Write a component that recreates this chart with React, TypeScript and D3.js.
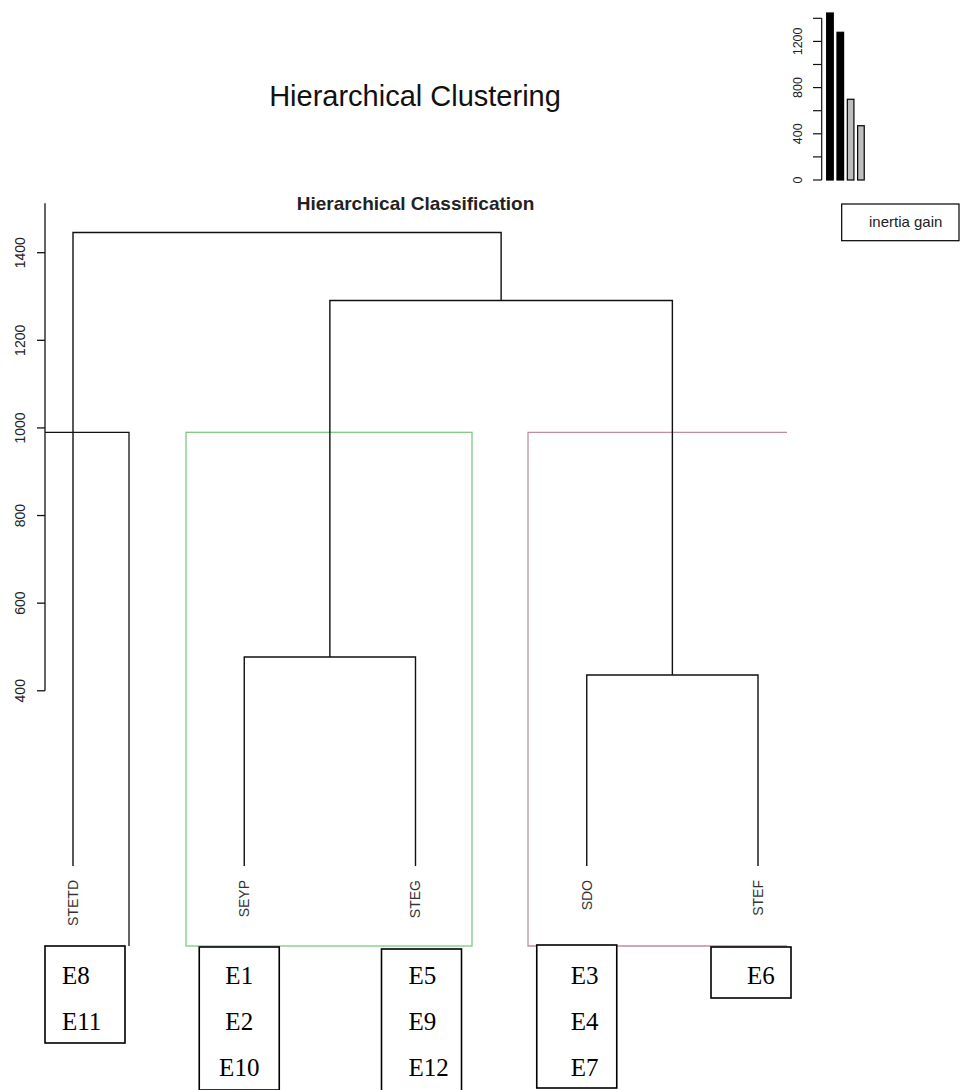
import * as d3 from "d3";

// dendrogram leaves (left to right) and merges, R-style
const leaves = ["STETD", "SEYP", "STEG", "SDO", "STEF"];
const mergeIds = ["m1", "m2", "m3", "m4"];
const mergeLeft = ["SEYP", "SDO", "m1", "STETD"];
const mergeRight = ["STEG", "STEF", "m2", "m3"];
const mergeHeights = [477, 436, 1291, 1446];
const cutHeight = 990;

const yTicks = [400, 600, 800, 1000, 1200, 1400];
const axisTop = 1513;

// inset: inertia gain barplot
const inertiaGain = [1446, 1279, 699, 470];
const gainFill = ["#000000", "#000000", "#bebebe", "#bebebe"];
const gainTicks = [0, 200, 400, 600, 800, 1000, 1200, 1400];
const gainLabels = [0, 400, 800, 1200];

// individuals in each cluster box (one box per leaf)
const boxMembers = [
    ["E8", "E11"],
    ["E1", "E2", "E10"],
    ["E5", "E9", "E12"],
    ["E3", "E4", "E7"],
    ["E6"],
];

// box placement relative to its leaf
const boxLayout = [
    { dx: -28, top: 946, textDx: 17, anchor: "start" },
    { dx: -45, top: 947, textDx: 40, anchor: "middle" },
    { dx: -34, top: 949, textDx: 27, anchor: "start" },
    { dx: -50, top: 945, textDx: 34, anchor: "start" },
    { dx: -47, top: 947, textDx: 36, anchor: "start" },
];

const W = 966;
const H = 1090;
const font = "'Liberation Sans', Arial, sans-serif";

export default function App() {
    const x = d3.scalePoint<string>().domain(leaves).range([73, 758]);
    const y = d3.scaleLinear().domain([0, 1400]).range([866, 252.7]);

    // positions of leaves and merges
    const pos: Record<string, { x: number; h: number }> = {};
    leaves.forEach((l) => (pos[l] = { x: x(l) as number, h: 0 }));
    const links: string[] = [];
    mergeIds.forEach((id, i) => {
        const a = pos[mergeLeft[i]];
        const b = pos[mergeRight[i]];
        const h = mergeHeights[i];
        pos[id] = { x: (a.x + b.x) / 2, h };
        const p = d3.path();
        p.moveTo(a.x, y(a.h));
        p.lineTo(a.x, y(h));
        p.lineTo(b.x, y(h));
        p.lineTo(b.x, y(b.h));
        links.push(p.toString());
    });

    const cutY = y(cutHeight);
    const rectBottom = 946;

    // inset scales
    const gy = d3.scaleLinear().domain([0, 1400]).range([180, 18.3]);
    const gx = d3
        .scaleBand<number>()
        .domain(d3.range(inertiaGain.length))
        .range([824.8, 866.1])
        .paddingInner(0.36)
        .paddingOuter(0.18);

    const rowH = 46;
    const firstBaseline = 984;

    return (
        <svg width={W} height={H} style={{ position: "absolute", left: 0, top: 0, background: "#fff" }}>
            <text x={415} y={106} textAnchor="middle" fontFamily={font} fontSize={29} fill="#111">
                Hierarchical Clustering
            </text>
            <text x={415.5} y={210} textAnchor="middle" fontFamily={font} fontSize={19} fontWeight="bold" fill="#222">
                Hierarchical Classification
            </text>

            {/* y axis */}
            <g>
                <line x1={45} x2={45} y1={y(axisTop)} y2={y(yTicks[0])} stroke="#111" strokeWidth={1.3} />
                {yTicks.map((t) => (
                    <g key={t} transform={`translate(0,${y(t)})`}>
                        <line x1={37} x2={45} stroke="#111" strokeWidth={1.3} />
                        <text
                            transform="translate(20,0) rotate(-90)"
                            textAnchor="middle"
                            dy="0.35em"
                            fontFamily={font}
                            fontSize={14}
                            fill="#222"
                        >
                            {t}
                        </text>
                    </g>
                ))}
            </g>

            {/* cluster rectangles */}
            <path
                d={`M45,${cutY}H129V${rectBottom}`}
                fill="none"
                stroke="#111"
                strokeWidth={1.3}
            />
            <rect
                x={186}
                y={cutY}
                width={286}
                height={rectBottom - cutY}
                fill="none"
                stroke="#7fca7f"
                strokeWidth={1.3}
            />
            <path
                d={`M787,${cutY}H528V${rectBottom}H787`}
                fill="none"
                stroke="#c08f9c"
                strokeWidth={1.3}
            />

            {/* dendrogram */}
            {links.map((d, i) => (
                <path key={i} d={d} fill="none" stroke="#111" strokeWidth={1.4} />
            ))}

            {/* leaf labels */}
            {leaves.map((l) => (
                <text
                    key={l}
                    transform={`translate(${x(l)},880) rotate(-90)`}
                    textAnchor="end"
                    dy="0.35em"
                    fontFamily={font}
                    fontSize={14}
                    fill="#333"
                >
                    {l}
                </text>
            ))}

            {/* member boxes */}
            {boxMembers.map((members, i) => {
                const lx = x(leaves[i]) as number;
                const b = boxLayout[i];
                const left = lx + b.dx;
                return (
                    <g key={i}>
                        <rect
                            x={left}
                            y={b.top}
                            width={80}
                            height={members.length * rowH + 5}
                            fill="#fff"
                            stroke="#000"
                            strokeWidth={1.6}
                        />
                        {members.map((m, j) => (
                            <text
                                key={m}
                                x={left + b.textDx}
                                y={firstBaseline + j * rowH}
                                textAnchor={b.anchor as any}
                                fontFamily="'Liberation Serif', 'Times New Roman', serif"
                                fontSize={25}
                                fill="#000"
                            >
                                {m}
                            </text>
                        ))}
                    </g>
                );
            })}

            {/* inset: inertia gain */}
            <g>
                <line x1={821.7} x2={821.7} y1={gy(0)} y2={gy(1400)} stroke="#111" strokeWidth={1.2} />
                {gainTicks.map((t) => (
                    <line key={t} x1={813} x2={821.7} y1={gy(t)} y2={gy(t)} stroke="#111" strokeWidth={1.2} />
                ))}
                {gainLabels.map((t) => (
                    <text
                        key={t}
                        transform={`translate(798,${gy(t)}) rotate(-90)`}
                        textAnchor="middle"
                        dy="0.35em"
                        fontFamily={font}
                        fontSize={12.5}
                        fill="#222"
                    >
                        {t}
                    </text>
                ))}
                {inertiaGain.map((v, i) => (
                    <rect
                        key={i}
                        x={gx(i)}
                        y={gy(v)}
                        width={gx.bandwidth()}
                        height={gy(0) - gy(v)}
                        fill={gainFill[i]}
                        stroke="#000"
                        strokeWidth={1.2}
                    />
                ))}
                <rect x={841.7} y={204} width={117.3} height={36.7} fill="none" stroke="#000" strokeWidth={1.2} />
                <text x={869} y={227} fontFamily={font} fontSize={15} fill="#222">
                    inertia gain
                </text>
            </g>
        </svg>
    );
}
